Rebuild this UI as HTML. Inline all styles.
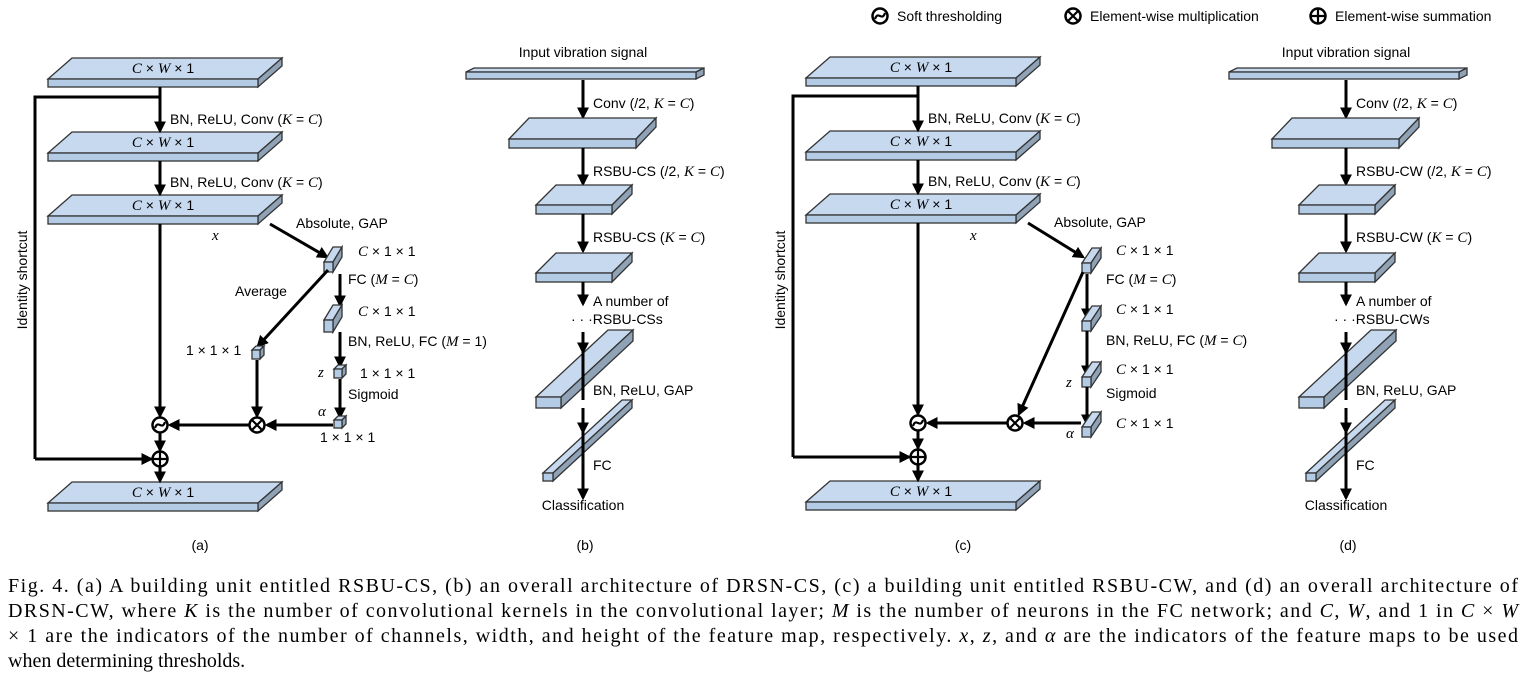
<!DOCTYPE html>
<html><head><meta charset="utf-8"><style>
html,body{margin:0;padding:0;background:#fff}
svg{display:block}
text{font-family:"Liberation Sans",sans-serif;font-size:14px;fill:#000}
.m{font-family:"Liberation Serif",serif;font-style:italic;font-size:15px}
.cap{font-family:"Liberation Serif",serif;font-size:20px}
</style></head><body>
<svg id="s" width="1528" height="691" viewBox="0 0 1528 691" xmlns="http://www.w3.org/2000/svg"></svg>
<script>
var o='<defs><marker id="a" markerWidth="4" markerHeight="4" refX="3.2" refY="2" orient="auto" markerUnits="strokeWidth"><path d="M0,0 L4,2 L0,4 Z" fill="#000"/></marker></defs>';
function plate(x,y,w,h,dx,dy){
 o+='<polygon points="'+x+','+y+' '+(x+dx)+','+(y-dy)+' '+(x+w+dx)+','+(y-dy)+' '+(x+w)+','+y+'" fill="#c6d9ee" stroke="#333" stroke-width="1.3"/>';
 o+='<polygon points="'+(x+w)+','+y+' '+(x+w+dx)+','+(y-dy)+' '+(x+w+dx)+','+(y-dy+h)+' '+(x+w)+','+(y+h)+'" fill="#8fa2b6" stroke="#333" stroke-width="1.3"/>';
 o+='<rect x="'+x+'" y="'+y+'" width="'+w+'" height="'+h+'" fill="#b4cbe5" stroke="#333" stroke-width="1.3"/>';
}
function ar(x1,y1,x2,y2){o+='<line x1="'+x1+'" y1="'+y1+'" x2="'+x2+'" y2="'+y2+'" stroke="#000" stroke-width="3" marker-end="url(#a)"/>';}
function ln(p){o+='<polyline points="'+p+'" fill="none" stroke="#000" stroke-width="3"/>';}
function t(x,y,s,anc,extra){o+='<text x="'+x+'" y="'+y+'"'+(anc?' text-anchor="'+anc+'"':'')+(extra||'')+'>'+s+'</text>';}
function M(s){return '<tspan class="m">'+s+'</tspan>';}
function circ(x,y,type){
 o+='<circle cx="'+x+'" cy="'+y+'" r="7.5" fill="#fff" stroke="#000" stroke-width="2.5"/>';
 if(type=='x')o+='<path d="M'+(x-4.5)+','+(y-4.5)+' L'+(x+4.5)+','+(y+4.5)+' M'+(x+4.5)+','+(y-4.5)+' L'+(x-4.5)+','+(y+4.5)+'" stroke="#000" stroke-width="2.2"/>';
 if(type=='p')o+='<path d="M'+(x-7)+','+y+' L'+(x+7)+','+y+' M'+x+','+(y-7)+' L'+x+','+(y+7)+'" stroke="#000" stroke-width="2.2"/>';
 if(type=='s')o+='<path d="M'+(x-5)+','+(y+3)+' C'+(x-2)+','+(y-6)+' '+(x+2)+','+(y+6)+' '+(x+5)+','+(y-3)+'" fill="none" stroke="#000" stroke-width="2.2"/>';
}
var CWX=M('C')+' × '+M('W')+' × 1', C11=M('C')+' × 1 × 1', O11='1 × 1 × 1';
circ(880,16,'s');t(897,21,'Soft thresholding');
circ(1073,16,'x');t(1090,21,'Element-wise multiplication');
circ(1318,16,'p');t(1335,21,'Element-wise summation');

function unit(X,cw){
 var c=X+160;
 var ys=cw?[78,152,215,502]:[79,153,216,503];
 ys.forEach(function(y){plate(X+48,y,210,8,24,21);t(X+163,y-6,CWX,'middle');});
 ar(c,ys[0]+8,c,ys[1]-22);t(c+10,ys[0]+45,'BN, ReLU, Conv ('+M('K')+' = '+M('C')+')');
 ar(c,ys[1]+8,c,ys[2]-22);t(c+10,ys[1]+34,'BN, ReLU, Conv ('+M('K')+' = '+M('C')+')');
 var y1=cw?423:425,y2=cw?457:459;
 ar(c,ys[2]+8,c,y1-9);
 ar(c,y1+7,c,y2-9);
 ar(c,y2+7,c,ys[3]-22);
 ln(c+','+(ys[0]+18)+' '+(X+35)+','+(ys[0]+18)+' '+(X+35)+','+y2);
 ar(X+35,y2,c-9,y2);
 o+='<text x="'+(X+27)+'" y="280" text-anchor="middle" transform="rotate(-90 '+(X+27)+' 280)">Identity shortcut</text>';
 t(X+212,240,M('x'));
 t(X+296,cw?227:228,'Absolute, GAP');
 circ(c,y1,'s');circ(c,y2,'p');
}
function bar(x,y,w,h,dx,dy){plate(x,y,w,h,dx,dy);}
unit(0,false);
ar(270,224,327,257);
bar(324,262,9,10,9,15);t(358,256,C11);
ar(340,274,340,305);t(348,284,'FC ('+M('M')+' = '+M('C')+')');
bar(324,320,9,12,9,15);t(358,316,C11);
ar(340,332,340,366);t(348,346,'BN, ReLU, FC ('+M('M')+' = 1)');
bar(334,369,8,9,4,4);t(318,377,M('z'));t(360,378,O11);
t(348,399,'Sigmoid');
ar(340,379,340,417);
bar(334,420,8,8,4,4);t(318,416,M('α'));t(320,442,O11);
ar(328,270,258,346);t(235,296,'Average');
bar(252,350,8,9,4,4);t(186,355,O11);
ar(257,360,257,416);circ(257,425,'x');
ar(333,425,267,425);ar(249,425,170,425);
t(200,550,'(a)','middle');
unit(758,true);
ar(1028,223,1083,257);
bar(1082,263,9,10,10,15);t(1116,255,C11);
ar(1087,274,1087,318);t(1106,284,'FC ('+M('M')+' = '+M('C')+')');
bar(1082,321,9,10,10,15);t(1116,314,C11);
ar(1087,331,1087,375);t(1106,345,'BN, ReLU, FC ('+M('M')+' = '+M('C')+')');
bar(1082,377,9,10,10,15);t(1116,374,C11);t(1066,387,M('z'));
t(1106,398,'Sigmoid');
ar(1087,387,1087,424);
bar(1082,427,9,10,10,15);t(1116,428,C11);t(1066,438,M('α'));
ar(1083,272,1019,414);
circ(1015,423,'x');
ar(1081,423,1025,423);ar(1007,423,928,423);
t(963,550,'(c)','middle');
function net(X,nm){
 var c=X;
 t(c,57,'Input vibration signal','middle');
 plate(c-117,72,230,7,8,4);
 ar(c,80,c,117);t(c+10,108,'Conv (/2, '+M('K')+' = '+M('C')+')');
 plate(c-74,139,127,9,20,21);
 ar(c,148,c,184);t(c+10,176,nm+' (/2, '+M('K')+' = '+M('C')+')');
 plate(c-47,205,76,9,20,20);
 ar(c,214,c,251);t(c+10,242,nm+' ('+M('K')+' = '+M('C')+')');
 plate(c-47,273,76,9,20,20);
 ar(c,282,c,304);t(c+10,306,'A number of');
 t(c-12,324,'· · ·'+nm+'s');
 ar(c,332,c,352);
 plate(c-47,397,25,11,72,67);
 ar(c,408,c,432);
 t(c+10,395,'BN, ReLU, GAP');
 plate(c-40,473,10,8,79,73);
 ar(c,480,c,498);
 t(c+10,470,'FC');
 t(c,510,'Classification','middle');
}
net(583,'RSBU-CS');
net(1346,'RSBU-CW');
[583,1346].forEach(function(c){o+='<line x1="'+c+'" y1="340" x2="'+c+'" y2="400" stroke="#000" stroke-width="3"/>';o+='<line x1="'+c+'" y1="432" x2="'+c+'" y2="480" stroke="#000" stroke-width="3"/>';});
t(585,550,'(b)','middle');t(1348,550,'(d)','middle');
var L=['Fig. 4.  (a) A building unit entitled RSBU-CS, (b) an overall architecture of DRSN-CS, (c) a building unit entitled RSBU-CW, and (d) an overall architecture of',
'DRSN-CW, where <tspan font-style="italic">K</tspan> is the number of convolutional kernels in the convolutional layer; <tspan font-style="italic">M</tspan> is the number of neurons in the FC network; and <tspan font-style="italic">C</tspan>, <tspan font-style="italic">W</tspan>, and 1 in <tspan font-style="italic">C</tspan> × <tspan font-style="italic">W</tspan>',
'× 1 are the indicators of the number of channels, width, and height of the feature map, respectively. <tspan font-style="italic">x</tspan>, <tspan font-style="italic">z</tspan>, and <tspan font-style="italic">α</tspan> are the indicators of the feature maps to be used',
'when determining thresholds.'];
var by=[592,617,642,667];
for(var i=0;i<4;i++){o+='<text class="cap" x="8" y="'+by[i]+'"'+(i<3?' textLength="1510" lengthAdjust="spacing"':'')+'>'+L[i]+'</text>';}
document.getElementById('s').innerHTML=o;
</script>
</body></html>
